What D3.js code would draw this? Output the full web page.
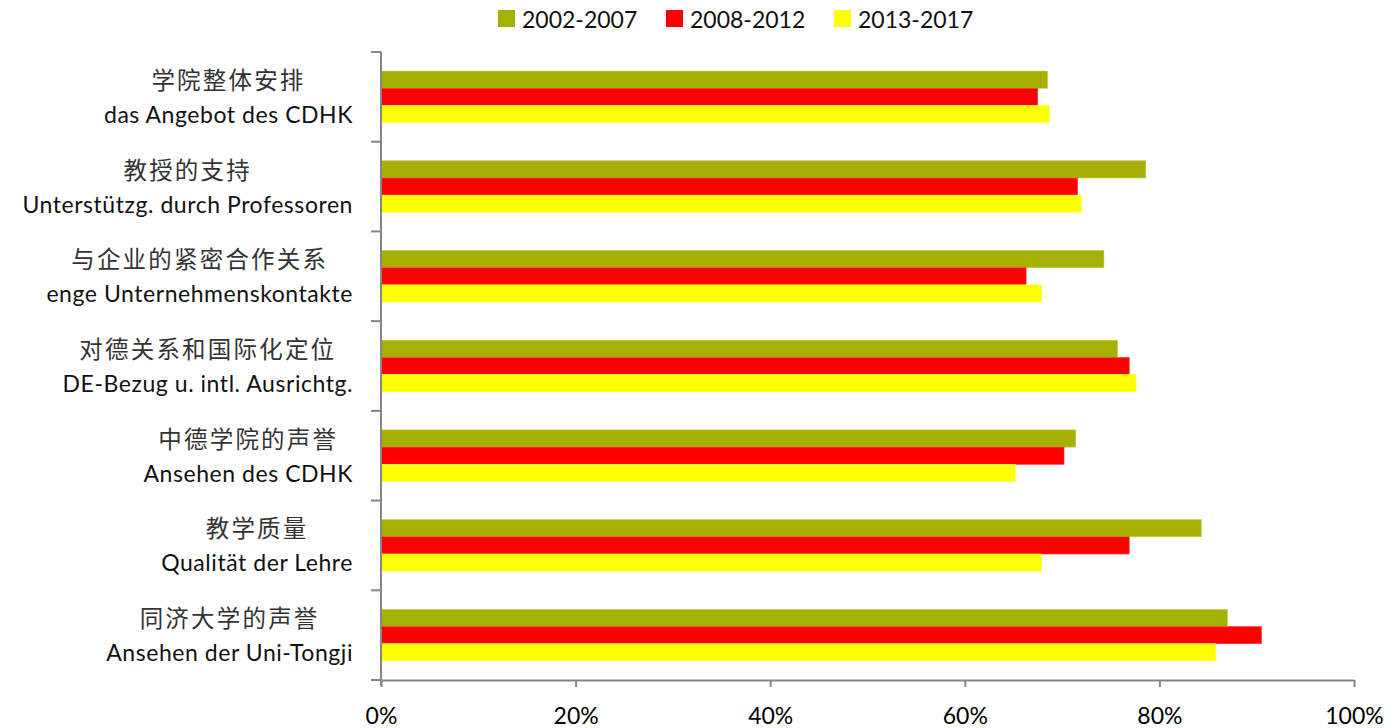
<!DOCTYPE html>
<html><head><meta charset="utf-8">
<script src="https://cdn.jsdelivr.net/npm/d3@7"></script>
<style>
html,body{margin:0;padding:0;background:#fff;}
svg{display:block;}
</style></head>
<body>
<svg id="c" width="1388" height="728"></svg>
<script>
const categoriesZh = ["学院整体安排","教授的支持","与企业的紧密合作关系","对德关系和国际化定位","中德学院的声誉","教学质量","同济大学的声誉"];
const categoriesDe = ["das Angebot des CDHK","Unterstützg. durch Professoren","enge Unternehmenskontakte","DE-Bezug u. intl. Ausrichtg.","Ansehen des CDHK","Qualität der Lehre","Ansehen der Uni-Tongji"];
const seriesNames = ["2002-2007","2008-2012","2013-2017"];
const s2002 = [68.5, 78.6, 74.3, 75.7, 71.4, 84.3, 87.0];
const s2008 = [67.5, 71.6, 66.3, 76.9, 70.2, 76.9, 90.5];
const s2013 = [68.7, 72.0, 67.9, 77.6, 65.2, 67.9, 85.8];
const tickValues = [0, 20, 40, 60, 80, 100];
const colors = ["#A6B000", "#FF0000", "#FFFF00"];
const strokes = ["#C4CB55", "#FF4040", "#FFFF60"];

(function () {
const series = [s2002, s2008, s2013];
const svg = d3.select("#c");
const mLeft = 381, mRight = 1354, mTop = 52, mBottom = 680;

const x = d3.scaleLinear().domain([0, 100]).range([mLeft, mRight]);
const y = d3.scaleBand().domain(d3.range(categoriesZh.length)).range([mTop, mBottom]).paddingInner(0).paddingOuter(0);
const barH = 17.2;
const groupH = barH * 3;

// bars
series.forEach((vals, si) => {
  svg.append("g").selectAll("rect").data(vals).join("rect")
    .attr("x", x(0))
    .attr("y", (d, i) => y(i) + (y.bandwidth() - groupH) / 2 + si * barH)
    .attr("width", d => x(d) - x(0))
    .attr("height", barH)
    .attr("fill", colors[si])
    .attr("stroke", strokes[si])
    .attr("stroke-width", 0.6);
});

// y axis
const axisColor = "#868686";
svg.append("line").attr("x1", mLeft).attr("x2", mLeft).attr("y1", mTop).attr("y2", mBottom + 5)
  .attr("stroke", axisColor).attr("stroke-width", 2);
const yTicks = d3.range(categoriesZh.length + 1).map(i => mTop + i * y.bandwidth());
svg.append("g").selectAll("line").data(yTicks).join("line")
  .attr("x1", mLeft - 10).attr("x2", mLeft).attr("y1", d => d).attr("y2", d => d)
  .attr("stroke", axisColor).attr("stroke-width", 2);

// x axis
const xAxis = d3.axisBottom(x).tickValues(tickValues).tickFormat(d => d + "%").tickSize(7).tickSizeOuter(0);
const gx = svg.append("g").attr("transform", `translate(0,${mBottom})`).call(xAxis);
gx.select(".domain").attr("stroke", axisColor).attr("stroke-width", 2);
gx.selectAll(".tick line").attr("stroke", axisColor).attr("stroke-width", 2);
gx.selectAll(".tick text").attr("fill", "#000").attr("font-family", "Lato, 'Open Sans', sans-serif")
  .attr("font-size", 23).attr("dy", 0).attr("y", 44);

// category labels
const labelRight = 353;
categoriesZh.forEach((zh, i) => {
  const yc = y(i) + y.bandwidth() / 2;
  const g = svg.append("g");
  const t1 = g.append("text").text(zh)
    .attr("font-family", "'Noto Sans CJK SC', sans-serif").attr("font-size", 23.5)
    .attr("letter-spacing", 2.2)
    .attr("fill", "#333").attr("text-anchor", "middle").attr("y", yc - 8);
  const t2 = g.append("text").text(categoriesDe[i])
    .attr("font-family", "Lato, 'Open Sans', sans-serif").attr("font-size", 23)
    .attr("letter-spacing", 0.55)
    .attr("fill", "#111").attr("text-anchor", "middle").attr("y", yc + 26);
  const w = Math.max(t1.node().getComputedTextLength(), t2.node().getComputedTextLength());
  const cx = labelRight - w / 2;
  t1.attr("x", cx); t2.attr("x", cx);
});

// legend
const legX = [498, 666, 834];
seriesNames.forEach((name, i) => {
  svg.append("rect").attr("x", legX[i]).attr("y", 10).attr("width", 17).attr("height", 17).attr("fill", colors[i]);
  svg.append("text").attr("x", legX[i] + 24).attr("y", 28).text(name)
    .attr("font-family", "Lato, 'Open Sans', sans-serif").attr("font-size", 23).attr("fill", "#111");
});
})();
</script>
</body></html>
